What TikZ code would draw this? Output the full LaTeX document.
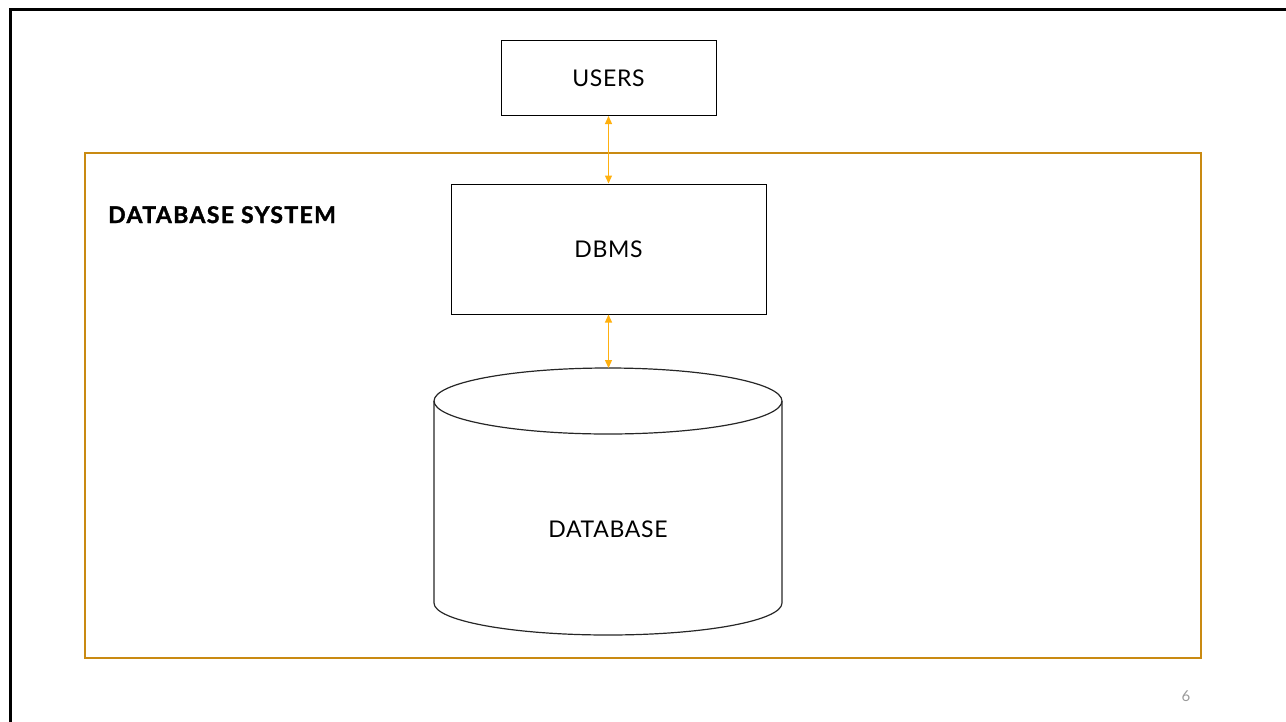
\documentclass[tikz,border=0pt]{standalone}
\usepackage{fontspec}
\setmainfont{Lato}
\usetikzlibrary{arrows.meta}
\definecolor{framegold}{HTML}{C98A12}
\definecolor{linkorange}{HTML}{FFB00F}
\definecolor{pagegray}{HTML}{9A9A9A}
\newcommand{\labelfont}{\fontsize{23}{27}\selectfont\addfontfeature{LetterSpace=3}}
\tikzset{
  box/.style={draw=black, line width=1pt, inner sep=0pt, font=\labelfont},
  link/.style={draw=linkorange, line width=1.3pt,
    {Triangle[length=8pt,width=7pt]}-{Triangle[length=8pt,width=7pt]}},
  dbline/.style={draw=black!85, line width=1.2pt},
}
\begin{document}
\begin{tikzpicture}[x=1pt,y=-1pt]
  \useasboundingbox (0,0) rectangle (1286,721);
  \clip (0,0) rectangle (1286,721);

  % slide frame
  \draw[line width=3pt, black] (10.5,740) -- (10.5,9.5) -- (1300,9.5);

  % database system frame
  \draw[framegold, line width=1.2pt] (85,153) rectangle (1201,658);
  \node[anchor=base west, inner sep=0pt,
        font=\fontsize{23}{27}\selectfont\bfseries\addfontfeature{LetterSpace=6,FakeBold=1.5}] (title) at (108,223) {DATABASE SYSTEM};

  % boxes
  \node[box, minimum width=215pt, minimum height=75pt] (users) at (608.5,78) {USERS};
  \node[box, minimum width=315pt, minimum height=130pt] (dbms) at (608.5,249) {DBMS};

  % database cylinder
  \draw[dbline] (434,401) -- (434,603) arc[start angle=180, end angle=360, x radius=174, y radius=-32] -- (782,401);
  \draw[dbline] (608,401) ellipse[x radius=174, y radius=33];
  \coordinate (dbtop) at (608.5,368);
  \node[inner sep=0pt, font=\labelfont] (db) at (608,529) {DATABASE};

  % connectors
  \draw[link] (users.south) -- (dbms.north);
  \draw[link] (dbms.south) -- (dbtop);

  % page number
  \node[pagegray, inner sep=0pt, font=\fontsize{15}{18}\selectfont] (pagenum) at (1186,696) {6};
\end{tikzpicture}
\end{document}
